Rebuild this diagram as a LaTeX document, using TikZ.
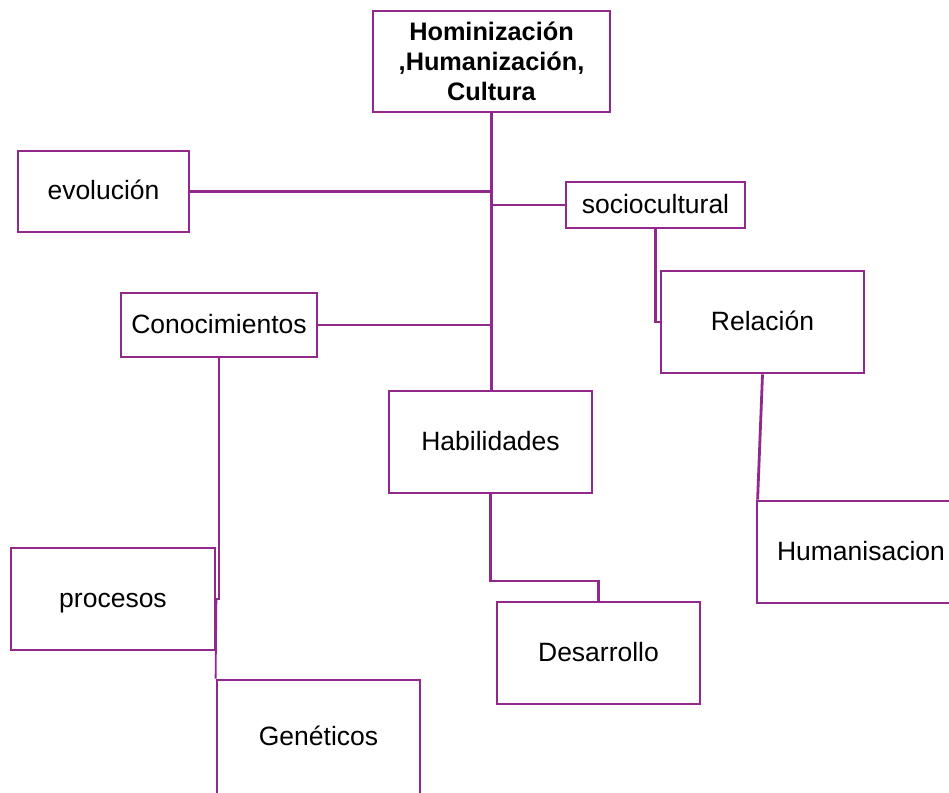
\documentclass[tikz,border=0pt]{standalone}
\usepackage{fontspec}
\setmainfont{Liberation Sans}
\definecolor{mauve}{RGB}{145,40,140}
\begin{document}
\begin{tikzpicture}[x=1pt,y=-1pt,
  box/.style={draw=mauve,line width=2.8pt,fill=white,inner sep=0pt,align=center,font=\fontsize{26.5}{30}\selectfont,text height=19pt,text depth=3pt},
  link/.style={draw=mauve,line width=2.8pt}]
\useasboundingbox (0,0) rectangle (949,792);
\clip (0,0) rectangle (949,792);
\fill[white] (0,0) rectangle (949,792);
\node[draw=mauve,line width=2.8pt,fill=white,inner sep=0pt,align=center,minimum width=237,minimum height=101,font=\bfseries\fontsize{25.3}{30}\selectfont] (title) at (491.5,61.5) {Hominización\\,Humanización,\\Cultura};
\node[box,minimum width=171,minimum height=81] (evo) at (103.5,191.5) {evolución};
\node[box,minimum width=179,minimum height=46] (soc) at (655.5,205) {sociocultural};
\node[box,minimum width=196,minimum height=64] (con) at (219,325) {Conocimientos};
\node[box,minimum width=203,minimum height=102] (rel) at (762.5,322) {Relación};
\node[box,minimum width=203,minimum height=102] (hab) at (490.5,442) {Habilidades};
\node[box,minimum width=208,minimum height=102] (hum) at (861,552) {Humanisacion};
\node[box,minimum width=204,minimum height=102] (proc) at (113,599) {procesos};
\node[box,minimum width=203,minimum height=102] (des) at (598.5,653) {Desarrollo};
\node[box,minimum width=203,minimum height=114] (gen) at (318.5,737) {Genéticos};
\coordinate (d1) at (0,581);
\draw[link] (title.south) -- (title.south |- hab.north);
\draw[link] (evo.east) -- (evo.east -| title.south);
\draw[link] (soc.west) -- (soc.west -| title.south);
\draw[link] (con.east) -- (con.east -| title.south);
\draw[link] (soc.south) |- (rel.west);
\draw[link] (rel.south) -- ([xshift=2pt]hum.north west);
\draw[link] (hab.south) -- (hab.south |- d1) -| (des.north);
\draw[link] (con.south) |- (proc.east);
\draw[link,line width=1.8pt] (proc.east) -- (gen.north west);
\end{tikzpicture}
\end{document}
